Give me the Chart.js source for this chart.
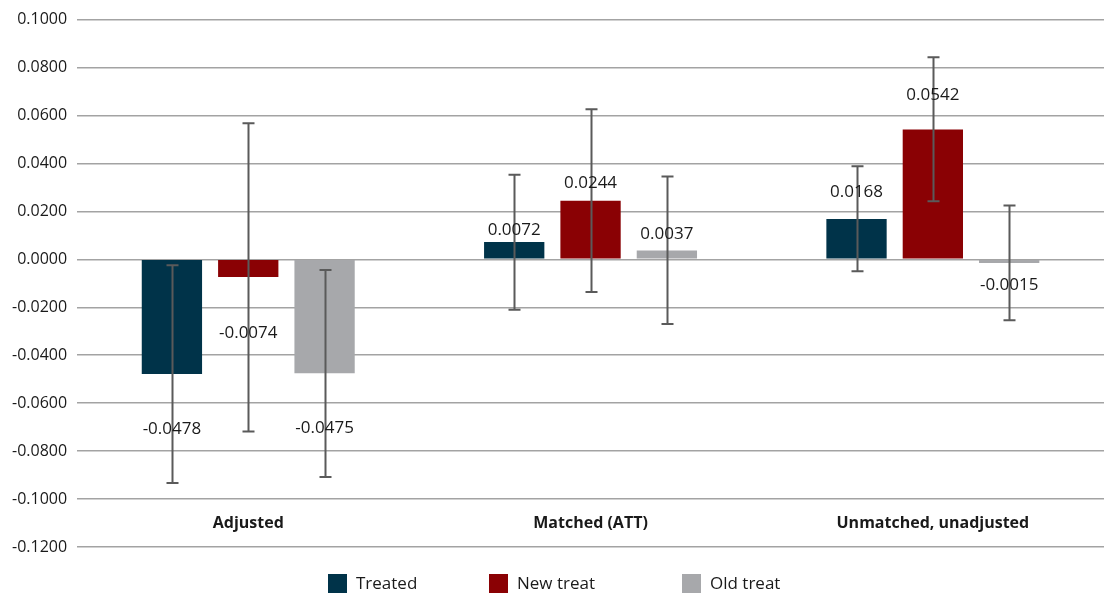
<!DOCTYPE html>
<html>
<head>
<meta charset="utf-8">
<script src="https://cdn.jsdelivr.net/npm/chart.js@4/dist/chart.umd.min.js"></script>
<style>
  html, body { margin: 0; padding: 0; background: #fff; }
  #wrap { width: 1104px; height: 598px; position: relative; }
</style>
</head>
<body>
<div id="wrap"><canvas id="chart"></canvas></div>
<script>
const categories = ['Adjusted', 'Matched (ATT)', 'Unmatched, unadjusted'];
const seriesNames = ['Treated', 'New treat', 'Old treat'];

// point estimates
const treated = [-0.0478, 0.0072, 0.0168];
const newTreat = [-0.0074, 0.0244, 0.0542];
const oldTreat = [-0.0475, 0.0037, -0.0015];

// confidence interval bounds
const treatedHigh = [-0.0025, 0.0353, 0.0388];
const treatedLow = [-0.0933, -0.0210, -0.0050];
const newTreatHigh = [0.0568, 0.0626, 0.0843];
const newTreatLow = [-0.0718, -0.0136, 0.0242];
const oldTreatHigh = [-0.0045, 0.0345, 0.0225];
const oldTreatLow = [-0.0908, -0.0270, -0.0254];

const yMin = -0.12, yMax = 0.10, yStep = 0.02;

const colors = ['#003349', '#8a0104', '#a7a8ab'];
// vertical shift of each value label from the bar end (px)
const labelShift = [[55, -12, -27], [56, -18, -34], [55, -16, 22]];
const legendX = [328, 489, 682];
const FONT = '"Open Sans", sans-serif';

const lows = [treatedLow, newTreatLow, oldTreatLow];
const highs = [treatedHigh, newTreatHigh, oldTreatHigh];

const errorBars = {
  id: 'errorBars',
  afterDatasetsDraw(chart) {
    const ctx = chart.ctx;
    const y = chart.scales.y;
    ctx.save();
    ctx.strokeStyle = '#5a5a5a';
    ctx.lineWidth = 2;
    chart.data.datasets.forEach((ds, di) => {
      chart.getDatasetMeta(di).data.forEach((bar, i) => {
        const x = Math.round(bar.x) + 0.5;
        const top = y.getPixelForValue(highs[di][i]);
        const bot = y.getPixelForValue(lows[di][i]);
        ctx.beginPath();
        ctx.moveTo(x, top); ctx.lineTo(x, bot);
        ctx.moveTo(x - 6, top); ctx.lineTo(x + 6, top);
        ctx.moveTo(x - 6, bot); ctx.lineTo(x + 6, bot);
        ctx.stroke();
      });
    });
    // value labels
    ctx.fillStyle = '#1a1a1a';
    ctx.font = '17px ' + FONT;
    ctx.textAlign = 'center';
    ctx.textBaseline = 'middle';
    chart.data.datasets.forEach((ds, di) => {
      chart.getDatasetMeta(di).data.forEach((bar, i) => {
        ctx.fillText(ds.data[i].toFixed(4), bar.x, bar.y + labelShift[di][i]);
      });
    });
    // category names sit inside the plot, between the two lowest gridlines
    ctx.font = 'bold 16px ' + FONT;
    const cy = y.getPixelForValue(-0.11);
    categories.forEach((c, i) => {
      ctx.fillText(c, chart.scales.x.getPixelForValue(i), cy);
    });
    ctx.restore();
  }
};

const legendRow = {
  id: 'legendRow',
  afterDraw(chart) {
    const ctx = chart.ctx;
    ctx.save();
    ctx.font = '17px ' + FONT;
    ctx.textBaseline = 'middle';
    ctx.textAlign = 'left';
    chart.data.datasets.forEach((ds, i) => {
      ctx.fillStyle = ds.backgroundColor;
      ctx.fillRect(legendX[i], 574, 19, 19);
      ctx.fillStyle = '#1a1a1a';
      ctx.fillText(ds.label, legendX[i] + 28, 584);
    });
    ctx.restore();
  }
};

new Chart(document.getElementById('chart'), {
  type: 'bar',
  data: {
    labels: categories,
    datasets: [
      { label: seriesNames[0], data: treated, backgroundColor: colors[0] },
      { label: seriesNames[1], data: newTreat, backgroundColor: colors[1] },
      { label: seriesNames[2], data: oldTreat, backgroundColor: colors[2] }
    ]
  },
  options: {
    responsive: true,
    maintainAspectRatio: false,
    animation: false,
    categoryPercentage: 0.669,
    barPercentage: 0.79,
    layout: { padding: { top: 7, bottom: 51, left: 2, right: 0 } },
    plugins: {
      legend: { display: false },
      tooltip: { enabled: false }
    },
    scales: {
      x: { display: false },
      y: {
        min: yMin,
        max: yMax,
        border: { display: false },
        grid: { color: '#a3a3a3', lineWidth: 1.5, drawTicks: false },
        ticks: {
          stepSize: yStep,
          padding: 10,
          color: '#1a1a1a',
          font: { family: FONT, size: 16 },
          callback: v => v.toFixed(4)
        }
      }
    }
  },
  plugins: [errorBars, legendRow]
});
</script>
</body>
</html>
